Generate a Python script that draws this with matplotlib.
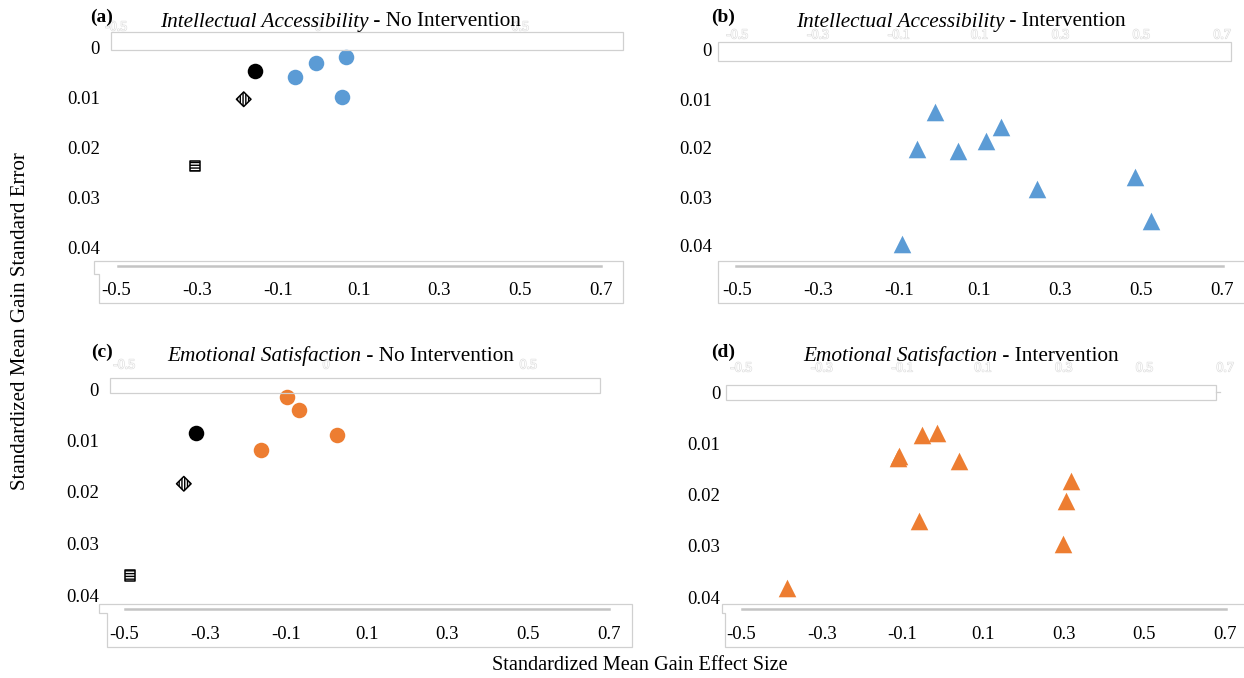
import matplotlib
matplotlib.use("Agg")
import matplotlib.pyplot as plt
import matplotlib.patheffects as pe
from matplotlib.patches import Polygon
from matplotlib.lines import Line2D

plt.rcParams['font.family'] = ['Liberation Serif', 'DejaVu Serif']

# --- data (effect size, standard error) ---
se_ticks = [0, 0.01, 0.02, 0.03, 0.04]
es_ticks = [-0.5, -0.3, -0.1, 0.1, 0.3, 0.5, 0.7]
faint_short = [-0.5, 0, 0.5]

# (a) Intellectual Accessibility - No Intervention
ia_no_x = [-0.057, -0.004, 0.069, 0.059]
ia_no_y = [0.0058, 0.0030, 0.0019, 0.0098]
ia_no_dot = [-0.157, 0.0046]
ia_no_diamond = [-0.184, 0.0103]
ia_no_square = [-0.305, 0.0237]

# (b) Intellectual Accessibility - Intervention
ia_int_x = [-0.009, -0.055, 0.047, 0.116, 0.154, 0.242, 0.484, 0.524, -0.091]
ia_int_y = [0.0126, 0.0202, 0.0207, 0.0185, 0.0158, 0.0284, 0.0259, 0.0348, 0.0396]

# (c) Emotional Satisfaction - No Intervention
es_no_x = [-0.096, -0.066, 0.026, -0.161]
es_no_y = [0.0015, 0.0041, 0.0090, 0.0118]
es_no_dot = [-0.323, 0.0085]
es_no_diamond = [-0.352, 0.0184]
es_no_square = [-0.486, 0.0362]

# (d) Emotional Satisfaction - Intervention
es_int_x = [-0.052, -0.013, -0.109, -0.111, 0.041, 0.318, 0.305, -0.058, 0.298, -0.386]
es_int_y = [0.0083, 0.0080, 0.0124, 0.0129, 0.0135, 0.0174, 0.0213, 0.0252, 0.0296, 0.0382]

BLUE = '#5B9BD5'
ORANGE = '#ED7D31'
BOXC = '#d0d0d0'

W, H = 1244, 678
fig = plt.figure(figsize=(W / 100, H / 100), dpi=100)


def fx(x):
    return x / W


def fy(y):
    return 1 - y / H


def outline(pts):
    fig.add_artist(Polygon([(fx(x), fy(y)) for x, y in pts], closed=True, fill=False,
                           edgecolor=BOXC, lw=0.9, transform=fig.transFigure))


def hline(x0, x1, y, color='#c4c4c4', lw=1.8):
    fig.add_artist(Line2D([fx(x0), fx(x1)], [fy(y), fy(y)], color=color, lw=lw,
                          transform=fig.transFigure))


def panel(p):
    x0, x1, y0, y1 = p['ax']
    ax = fig.add_axes([fx(x0), fy(y1), (x1 - x0) / W, (y1 - y0) / H])
    ax.set_xlim(-0.5, 0.7)
    ax.set_ylim(0.04, 0)
    for s in ax.spines.values():
        s.set_visible(False)
    ax.set_yticks(se_ticks)
    ax.set_yticklabels([f"{v:g}" for v in se_ticks])
    ax.set_xticks(es_ticks)
    ax.set_xticklabels([f"{v:g}" for v in es_ticks])
    ax.tick_params(axis='y', length=0, pad=p['ypad'], labelsize=13.5)
    ax.tick_params(axis='x', length=0, pad=p['xpad'], labelsize=13.5)
    ax.patch.set_alpha(0)

    # decoration boxes (Excel leftovers)
    outline(p['top_box'])
    outline(p['bottom_box'])
    hline(*p['inner'])

    # faint duplicate axis labels on top
    for v in p['faint']:
        t = ax.annotate(f"{v:g}", xy=(v, 1), xycoords=('data', 'axes fraction'),
                        xytext=(0, y0 - p['faint_y']), textcoords='offset pixels',
                        ha='center', va='center', fontsize=10, color='white', zorder=0)
        t.set_path_effects([pe.withStroke(linewidth=0.9, foreground='#dedede')])

    # panel letter and title
    fig.text(fx(p['letter_xy'][0]), fy(p['letter_xy'][1]), p['letter'], fontsize=14,
             fontweight='bold', ha='center', va='center')
    t1 = fig.text(fx(p['title_x']), fy(p['title_y']), p['title'][0], fontsize=15.3,
                  style='italic', ha='left', va='center')
    ax.annotate(p['title'][1], xy=(1, 0), xycoords=t1, ha='left', va='bottom', fontsize=15.3)
    return ax


def pooled(ax, dot, diamond, square):
    ax.scatter([dot[0]], [dot[1]], s=125, color='black', linewidths=0, clip_on=False, zorder=3)
    ax.scatter([diamond[0]], [diamond[1]], s=55, marker='D', facecolor='white',
               edgecolor='black', hatch='||||||', linewidths=1.1, clip_on=False, zorder=3)
    ax.scatter([square[0]], [square[1]], s=55, marker='s', facecolor='white',
               edgecolor='black', hatch='------', linewidths=1.1, clip_on=False, zorder=3)


layout = [
    dict(ax=(116, 601, 48, 247), ypad=11.5, xpad=25, faint=faint_short, faint_y=27,
         top_box=[(111, 32), (623, 32), (623, 50), (111, 50)],
         bottom_box=[(94, 274), (94, 261), (623, 261), (623, 303), (99, 303), (99, 274)],
         inner=(118, 601, 266), letter='(a)', letter_xy=(102, 17), title_x=160, title_y=22,
         title=('Intellectual Accessibility', ' - No Intervention')),
    dict(ax=(737, 1222, 50, 246), ypad=18, xpad=26, faint=es_ticks, faint_y=35,
         top_box=[(718, 42), (1231, 42), (1231, 61), (718, 61)],
         bottom_box=[(718, 261), (1252, 261), (1252, 303), (718, 303)],
         inner=(736, 1223, 266), letter='(b)', letter_xy=(723, 17), title_x=796, title_y=22,
         title=('Intellectual Accessibility', ' - Intervention')),
    dict(ax=(124, 609, 389, 595), ypad=18, xpad=22.3, faint=faint_short, faint_y=365,
         top_box=[(110, 378), (600, 378), (600, 393), (110, 393)],
         bottom_box=[(99, 613), (99, 604), (632, 604), (632, 647), (107, 647), (107, 613)],
         inner=(125, 609, 609), letter='(c)', letter_xy=(102, 352), title_x=167, title_y=356,
         title=('Emotional Satisfaction', ' - No Intervention')),
    dict(ax=(741, 1225, 392, 597), ypad=15, xpad=21, faint=es_ticks, faint_y=368,
         top_box=[(726, 385), (1216, 385), (1216, 400), (726, 400)],
         bottom_box=[(722, 613), (722, 604), (1252, 604), (1252, 647), (725, 647), (725, 613)],
         inner=(742, 1226, 609), letter='(d)', letter_xy=(723, 352), title_x=803, title_y=356,
         title=('Emotional Satisfaction', ' - Intervention')),
]

ax_a = panel(layout[0])
ax_a.scatter(ia_no_x, ia_no_y, s=125, color=BLUE, linewidths=0, clip_on=False, zorder=3)
pooled(ax_a, ia_no_dot, ia_no_diamond, ia_no_square)

ax_b = panel(layout[1])
ax_b.scatter(ia_int_x, ia_int_y, s=160, marker='^', color=BLUE, linewidths=0, clip_on=False, zorder=3)

ax_c = panel(layout[2])
ax_c.scatter(es_no_x, es_no_y, s=125, color=ORANGE, linewidths=0, clip_on=False, zorder=3)
pooled(ax_c, es_no_dot, es_no_diamond, es_no_square)

ax_d = panel(layout[3])
ax_d.scatter(es_int_x, es_int_y, s=160, marker='^', color=ORANGE, linewidths=0, clip_on=False, zorder=3)
hline(1216, 1220, 392, color=BOXC, lw=0.9)

fig.text(fx(21), fy(321), 'Standardized Mean Gain Standard Error', rotation=90,
         ha='center', va='center', fontsize=15)
fig.text(fx(640), fy(665), 'Standardized Mean Gain Effect Size', ha='center', va='center', fontsize=14.6)

fig.savefig('out.png', dpi=100)
